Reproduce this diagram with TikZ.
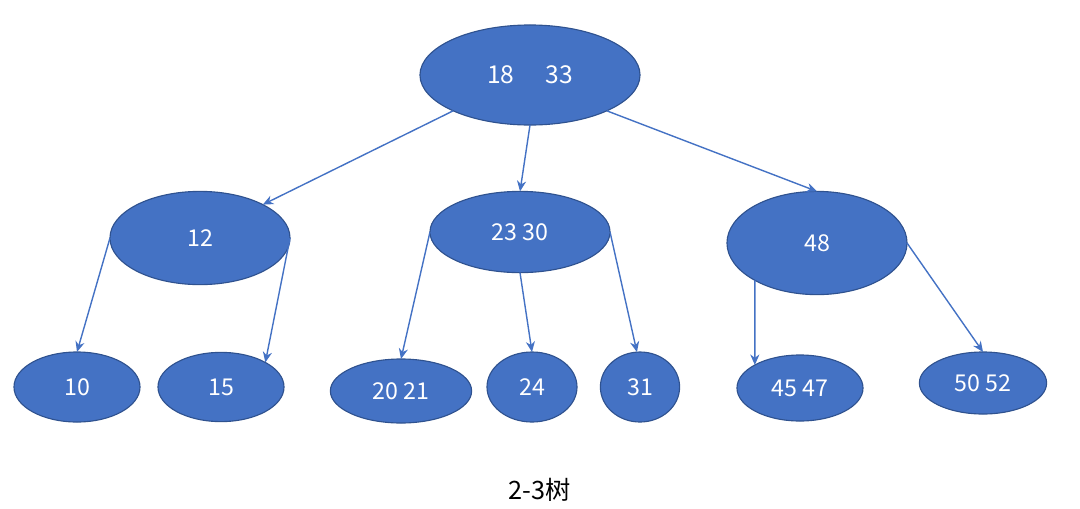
\documentclass[tikz,border=0pt]{standalone}
\usepackage{fontspec}
\setmainfont{Noto Sans CJK SC}
\usepackage{xcolor}
\usepackage{tikz}
\usetikzlibrary{shapes.geometric, arrows.meta}

\definecolor{nodeblue}{HTML}{4472C4}
\definecolor{nodeedge}{HTML}{2F528F}

\begin{document}
\begin{tikzpicture}[
    x=0.025cm, y=-0.025cm,
    key/.style={draw=nodeedge, fill=nodeblue, ellipse, line width=0.8pt, inner sep=0pt, outer sep=0pt, text=white, font=\fontsize{16.5}{18}\selectfont},
    arrow/.style={-{Stealth[length=7.5pt, width=6.5pt]}, nodeblue, line width=1pt}
]
    \useasboundingbox (0,0) rectangle (1080,508);

    % Root
    \node[key, minimum width=5.5cm, minimum height=2.5cm, font=\fontsize{17.5}{19}\selectfont] (root) at (530,75) {18\hspace{22pt}33};

    % Second level
    \node[key, minimum width=4.5cm, minimum height=2.33cm] (n12) at (200,238) {12};
    \node[key, minimum width=4.5cm, minimum height=2.03cm] (n2330) at (520,232) {23 30};
    \node[key, minimum width=4.5cm, minimum height=2.58cm] (n48) at (817,243) {48};

    % Leaves
    \node[key, minimum width=3.15cm, minimum height=1.75cm] (n10) at (77,387) {10};
    \node[key, minimum width=3.15cm, minimum height=1.73cm] (n15) at (221,387) {15};
    \node[key, minimum width=3.53cm, minimum height=1.6cm] (n2021) at (401,391) {20 21};
    \node[key, minimum width=2.25cm, minimum height=1.75cm] (n24) at (532,387) {24};
    \node[key, minimum width=1.98cm, minimum height=1.75cm] (n31) at (640,387) {31};
    \node[key, minimum width=3.15cm, minimum height=1.65cm] (n4547) at (800,388) {45 47};
    \node[key, minimum width=3.18cm, minimum height=1.55cm] (n5052) at (983,383) {50 52};

    % Caption
    \node[font=\fontsize{18}{20}\selectfont] (caption) at (540,490) {2-3树};

    % Arrows from root
    \draw[arrow] (root.205) -- (n12.28);
    \draw[arrow] (root.south) -- (n2330.north);
    \draw[arrow] (root.335) -- (n48.north);

    % Arrows from second level
    \draw[arrow] (n12.west) -- (n10.north);
    \draw[arrow] (n12.east) -- (n15.29);
    \draw[arrow] (n2330.west) -- (n2021.north);
    \draw[arrow] (n2330.south) -- (n24.north);
    \draw[arrow] (n2330.east) -- (n31.95);
    \draw[arrow] (n48.211) -- (n4547.153);
    \draw[arrow] (n48.east) -- (n5052.north);

\end{tikzpicture}
\end{document}
